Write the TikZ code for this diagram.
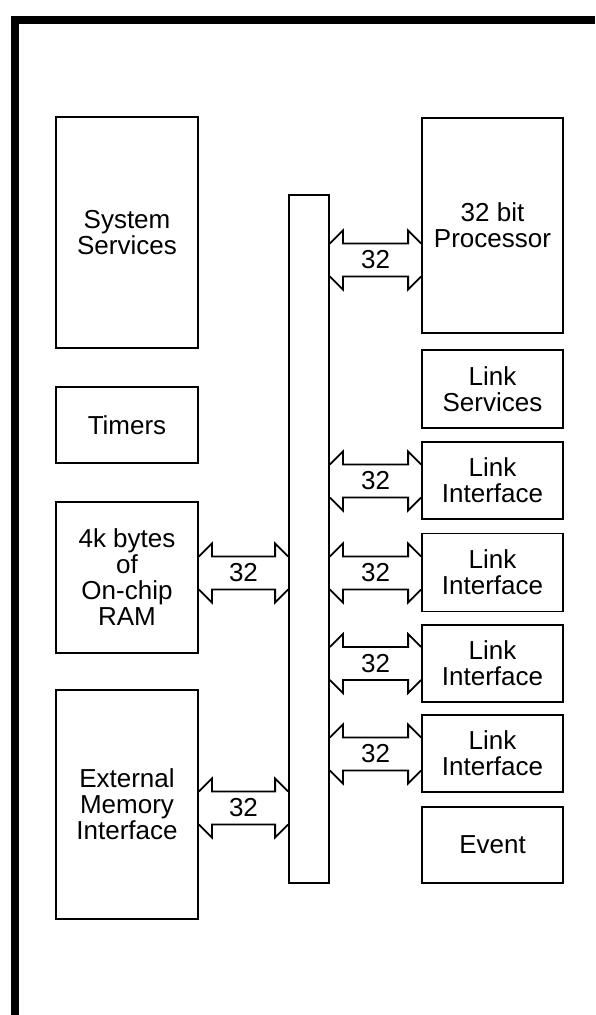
\documentclass[tikz,border=0pt]{standalone}
\usepackage{fontspec}
\setmainfont{Liberation Sans}
\usetikzlibrary{calc}
\newcommand\sw{16.5}
\newcommand\hl{13}
\newcommand\dbus[4]{% #1 left node, #2 right node, #3 y, #4 name
  \coordinate (#4y) at (0,#3);
  \coordinate (#4a) at (#1.east |- #4y);
  \coordinate (#4b) at (#2.west |- #4y);
  \draw[busarrow] ($(#4a)+(0,-\sw)$) -- ++(\hl,-\hl) -- ++(0,\hl) -- ($(#4b)+(-\hl,-\sw)$) -- ++(0,-\hl) -- ($(#4b)+(0,-\sw)$);
  \draw[busarrow] ($(#4a)+(0,\sw)$) -- ++(\hl,\hl) -- ++(0,-\hl) -- ($(#4b)+(-\hl,\sw)$) -- ++(0,\hl) -- ($(#4b)+(0,\sw)$);
  \node[lbl] (#4l) at ($(#4a)!0.5!(#4b)$) {32};
}
\begin{document}
\begin{tikzpicture}[x=1pt,y=-1pt,
  box/.style={draw,line width=1.8pt,align=center,inner sep=0pt,
    font=\fontsize{26}{26}\selectfont},
  lcol/.style={box,minimum width=142pt},
  rcol/.style={box,minimum width=141pt},
  busarrow/.style={line width=1.8pt,line join=miter},
  lbl/.style={font=\fontsize{26}{26}\selectfont,inner sep=0pt}]
\useasboundingbox (0,0) rectangle (595,1015);
\fill[white] (0,0) rectangle (595,1015);
% frame
\draw[line width=8pt,line join=miter] (15,1015) -- (15,20) -- (595,20);
% left column
\node[lcol,minimum height=231pt] (sys) at (127,232.5) {System\\Services};
\node[lcol,minimum height=76pt] (tim) at (127,425) {Timers};
\node[lcol,minimum height=151pt] (ram) at (127,577.5) {4k bytes\\of\\On-chip\\RAM};
\node[lcol,minimum height=229pt] (emi) at (127,804.5) {External\\Memory\\Interface};
% bus
\node[box,minimum width=40pt,minimum height=688pt] (bus) at (309,539) {};
% right column
\node[rcol,minimum height=215pt] (proc) at (492.5,225.5) {32 bit\\Processor};
\node[rcol,minimum height=78pt] (lsv) at (492.5,389) {Link\\Services};
\node[rcol,minimum height=77pt] (li1) at (492.5,480.5) {Link\\Interface};
\node[rcol,minimum height=78pt] (li2) at (492.5,572.5) {Link\\Interface};
\node[rcol,minimum height=77pt] (li3) at (492.5,663.5) {Link\\Interface};
\node[rcol,minimum height=77pt] (li4) at (492.5,753.5) {Link\\Interface};
\node[rcol,minimum height=76pt] (ev) at (492.5,845) {Event};
% bus arrows
\dbus{bus}{proc}{260}{ap}
\dbus{bus}{li1}{481}{a1}
\dbus{bus}{li2}{573}{a2}
\dbus{bus}{li3}{663.5}{a3}
\dbus{bus}{li4}{754}{a4}
\dbus{ram}{bus}{573}{ar}
\dbus{emi}{bus}{808}{ae}
\end{tikzpicture}
\end{document}
